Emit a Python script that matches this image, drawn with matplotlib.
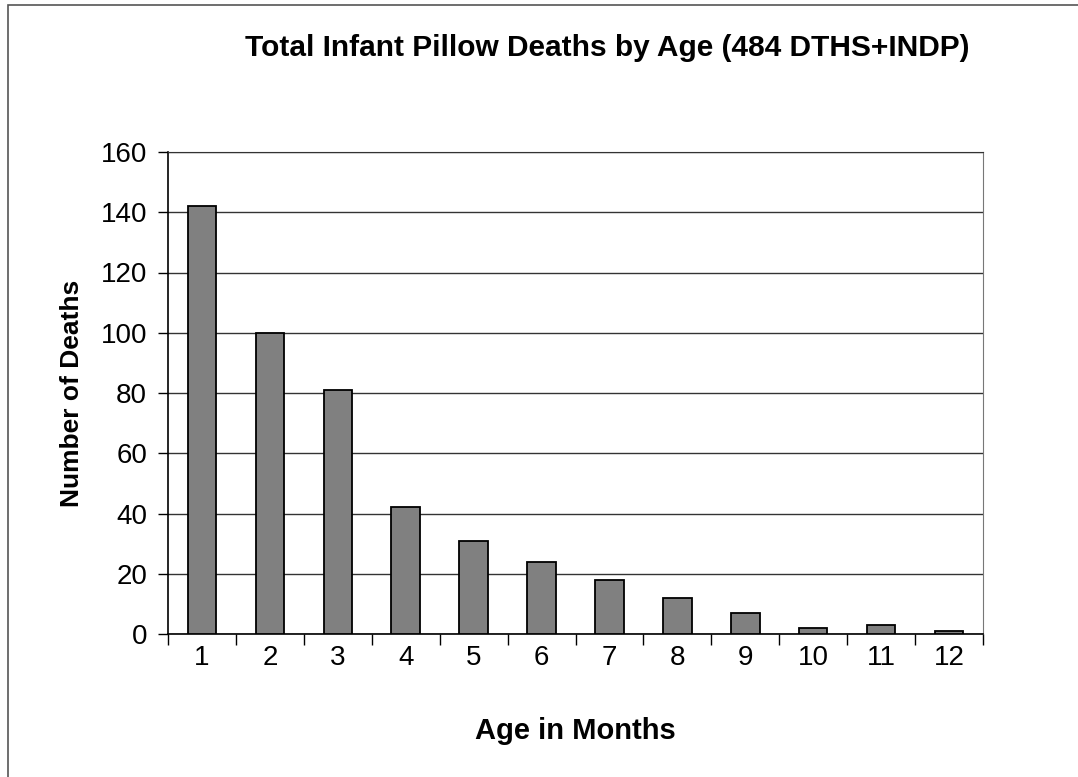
import matplotlib
matplotlib.use("Agg")
import matplotlib.pyplot as plt
from matplotlib.patches import Rectangle

ages = ["1", "2", "3", "4", "5", "6", "7", "8", "9", "10", "11", "12"]
deaths = [142, 100, 81, 42, 31, 24, 18, 12, 7, 2, 3, 1]
yticks = [0, 20, 40, 60, 80, 100, 120, 140, 160]

plt.rcParams['font.family'] = ['Liberation Sans', 'DejaVu Sans']

fig = plt.figure(figsize=(10.78, 7.77), dpi=100)
fig.patches.append(Rectangle((0.007, -0.01), 1.2, 1.003, transform=fig.transFigure,
                             fill=False, edgecolor='#555555', linewidth=1.2))

ax = fig.add_axes([168/1078, 1-634/777, (983-168)/1078, (634-152)/777])
x = list(range(len(ages)))
ax.bar(x, deaths, width=0.42, color='#808080', edgecolor='black', linewidth=1.3, zorder=3)

ax.set_xlim(-0.5, len(ages) - 0.5)
ax.set_ylim(0, 160)
ax.set_yticks(yticks)
ax.set_yticklabels([str(v) for v in yticks], fontsize=20)
ax.yaxis.grid(True, color='#333333', linewidth=1.0, zorder=0)
ax.set_xticks(x)
ax.set_xticklabels(ages, fontsize=20)
ax.set_xticks([i - 0.5 for i in range(len(ages) + 1)], minor=True)
ax.tick_params(axis='x', which='major', length=0, pad=8)
ax.tick_params(axis='x', which='minor', length=8, width=1, direction='out')
ax.tick_params(axis='y', length=7, width=1, direction='out', pad=8)

for s in ['left', 'bottom']:
    ax.spines[s].set_color('black')
    ax.spines[s].set_linewidth(1.2)
ax.spines['top'].set_color('#333333')
ax.spines['right'].set_color('#777777')

ax.set_xlabel('Age in Months', fontsize=21, fontweight='bold', labelpad=33)
ax.set_ylabel('Number of Deaths', fontsize=19, fontweight='bold', labelpad=12)
fig.text(0.563, 1 - 48/777, 'Total Infant Pillow Deaths by Age (484 DTHS+INDP)',
         ha='center', va='center', fontsize=21.5, fontweight='bold')

fig.savefig('out.png', dpi=100)
